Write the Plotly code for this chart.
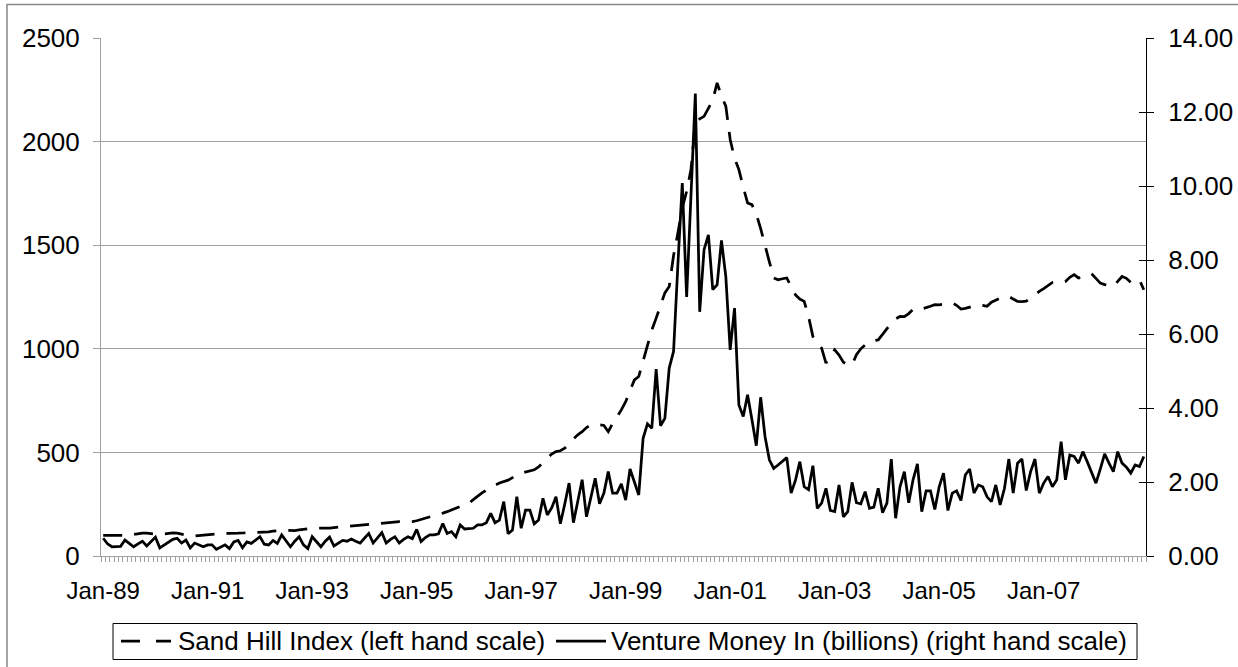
import pandas as pd
import plotly.graph_objects as go

# ---- data -------------------------------------------------------------
month_labels = list(pd.date_range("1989-01-01", periods=240, freq="MS").strftime("%b-%y"))
month_index = list(range(len(month_labels)))
tick_positions = list(range(0, 240, 24))
tick_labels = [month_labels[i] for i in tick_positions]

sand_hill = [
    100, 100, 101, 101, 102, 101, 100, 104, 108, 110, 110, 108,   # 1989
    104, 103, 106, 109, 111, 110, 106, 101, 97, 97, 99, 103,      # 1990
    104, 106, 108, 110, 110, 109, 108, 110, 111, 112, 113, 115,   # 1991
    115, 114, 117, 120, 123, 124, 124, 122, 123, 126, 129, 131,   # 1992
    133, 134, 133, 134, 135, 137, 139, 140, 142, 145, 148, 150,   # 1993
    150, 152, 154, 155, 157, 160, 163, 166, 166, 165, 164, 166,   # 1994
    170, 176, 182, 187, 192, 199, 207, 214, 222, 230, 238, 246,   # 1995
    255, 272, 290, 305, 318, 332, 342, 352, 358, 366, 378, 392,   # 1996
    400, 405, 410, 416, 430, 452, 475, 492, 504, 508, 520, 545,   # 1997
    565, 585, 600, 620, 632, 636, 634, 630, 600, 640, 672, 705,   # 1998
    745, 800, 850, 866, 940, 1019, 1090, 1148, 1210, 1270, 1301, 1450,  # 1999
    1560, 1680, 1760, 1865, 2090, 2110, 2122, 2160, 2200, 2283, 2220, 2171,  # 2000
    2010, 1920, 1865, 1780, 1704, 1696, 1650, 1580, 1494, 1420, 1342, 1333,  # 2001
    1338, 1342, 1300, 1260, 1240, 1229, 1156, 1059, 1030, 1003, 931, 960,    # 2002
    995, 970, 935, 923, 923, 971, 1000, 1019, 1035, 1040, 1043, 1070,        # 2003
    1100, 1124, 1145, 1156, 1155, 1170, 1190, 1197, 1192, 1197, 1205, 1213,  # 2004
    1212, 1215, 1218, 1221, 1210, 1192, 1195, 1200, 1208, 1213, 1210, 1205,  # 2005
    1225, 1237, 1245, 1250, 1253, 1240, 1229, 1228, 1230, 1245, 1262, 1277,  # 2006
    1290, 1305, 1320, 1322, 1318, 1325, 1345, 1358, 1342, 1345, 1355, 1362,  # 2007
    1340, 1317, 1310, 1305, 1301, 1325, 1349, 1340, 1320, 1325, 1333, 1285,  # 2008
]

venture_money = [
    0.48, 0.33, 0.25, 0.26, 0.26, 0.43, 0.33, 0.25, 0.33, 0.40, 0.27, 0.38,  # 1989
    0.51, 0.22, 0.30, 0.38, 0.45, 0.48, 0.35, 0.43, 0.22, 0.35, 0.30, 0.25,  # 1990
    0.30, 0.30, 0.18, 0.25, 0.30, 0.20, 0.38, 0.42, 0.22, 0.38, 0.34, 0.43,  # 1991
    0.52, 0.32, 0.30, 0.42, 0.34, 0.57, 0.40, 0.25, 0.40, 0.52, 0.30, 0.20,  # 1992
    0.52, 0.38, 0.25, 0.40, 0.51, 0.27, 0.35, 0.42, 0.40, 0.46, 0.40, 0.35,  # 1993
    0.48, 0.61, 0.35, 0.50, 0.63, 0.35, 0.45, 0.52, 0.35, 0.45, 0.52, 0.47,  # 1994
    0.72, 0.39, 0.50, 0.57, 0.57, 0.60, 0.88, 0.61, 0.66, 0.52, 0.84, 0.73,  # 1995
    0.73, 0.75, 0.84, 0.84, 0.90, 1.15, 0.90, 0.97, 1.47, 0.60, 0.70, 1.60,  # 1996
    0.75, 1.24, 1.24, 0.87, 0.97, 1.56, 1.11, 1.30, 1.60, 0.87, 1.40, 1.97,  # 1997
    0.90, 1.50, 2.06, 1.06, 1.60, 2.10, 1.41, 1.70, 2.28, 1.70, 1.70, 1.95,  # 1998
    1.51, 2.35, 2.00, 1.65, 3.18, 3.57, 3.45, 5.05, 3.52, 3.72, 5.08, 5.53,  # 1999
    7.90, 10.08, 7.00, 9.80, 12.50, 6.60, 8.28, 8.68, 7.20, 7.33, 8.53, 7.55,  # 2000
    5.57, 6.70, 4.08, 3.77, 4.36, 3.68, 2.98, 4.29, 3.23, 2.60, 2.37, 2.46,  # 2001
    2.55, 2.66, 1.70, 2.05, 2.55, 1.87, 1.79, 2.44, 1.29, 1.43, 1.83, 1.23,  # 2002
    1.20, 1.92, 1.06, 1.20, 1.99, 1.44, 1.41, 1.74, 1.29, 1.32, 1.83, 1.17,  # 2003
    1.43, 2.62, 1.02, 1.87, 2.28, 1.44, 2.06, 2.49, 1.20, 1.76, 1.76, 1.26,  # 2004
    1.87, 2.24, 1.23, 1.70, 1.76, 1.50, 2.19, 2.35, 1.70, 1.92, 1.87, 1.60,  # 2005
    1.47, 1.92, 1.38, 1.83, 2.62, 1.70, 2.51, 2.62, 1.77, 2.28, 2.62, 1.70,  # 2006
    1.97, 2.15, 1.87, 2.06, 3.09, 2.06, 2.73, 2.69, 2.51, 2.82, 2.55, 2.25,  # 2007
    1.97, 2.35, 2.76, 2.51, 2.28, 2.82, 2.51, 2.40, 2.24, 2.46, 2.42, 2.69,  # 2008
]

series_names = ["Sand Hill Index (left hand scale)",
                "Venture Money In (billions) (right hand scale)"]

# ---- figure -----------------------------------------------------------
W, H = 1238, 667
PL, PR, PT, PB = 101, 1146, 38, 556          # plot area in pixels
ML, MT, MR, MB = PL, PT, W - PR, H - PB

def px_x(x):
    return (x - PL) / (PR - PL)

def px_y(y):
    return (PB - y) / (PB - PT)

FONT = "Liberation Sans, Arial, Helvetica, sans-serif"
GRAY = "#a0a0a0"
LW = 2.75
DASH = "19px,12px"

fig = go.Figure()
fig.add_trace(go.Scatter(
    x=month_index, y=sand_hill, name=series_names[0], mode="lines",
    line=dict(color="black", width=LW, dash=DASH), yaxis="y"))
fig.add_trace(go.Scatter(
    x=month_index, y=venture_money, name=series_names[1], mode="lines",
    line=dict(color="black", width=LW), yaxis="y2"))
# carrier trace for the inner half of the right-axis cross ticks
fig.add_trace(go.Scatter(
    x=month_index, y=venture_money, mode="lines", opacity=0,
    showlegend=False, hoverinfo="skip", yaxis="y3"))

# ---- legend drawn as a boxed key (Excel style, compact) ---------------
LEG_Y = 641
legend_shapes = [
    dict(type="rect", xref="paper", yref="paper",
         x0=px_x(113), x1=px_x(1137), y0=px_y(659.5), y1=px_y(623.5),
         line=dict(color="black", width=1), fillcolor="white"),
    dict(type="line", xref="paper", yref="paper",
         x0=px_x(121), x1=px_x(171), y0=px_y(LEG_Y), y1=px_y(LEG_Y),
         line=dict(color="black", width=LW, dash="19px,16px")),
    dict(type="line", xref="paper", yref="paper",
         x0=px_x(556), x1=px_x(606), y0=px_y(LEG_Y), y1=px_y(LEG_Y),
         line=dict(color="black", width=LW)),
]
legend_texts = [
    dict(text=series_names[0], xref="paper", yref="paper",
         x=px_x(176), y=px_y(LEG_Y), xanchor="left", yanchor="middle",
         showarrow=False, font=dict(size=26, family=FONT, color="black")),
    dict(text=series_names[1], xref="paper", yref="paper",
         x=px_x(609), y=px_y(LEG_Y), xanchor="left", yanchor="middle",
         showarrow=False, font=dict(size=26, family=FONT, color="black")),
]

fig.update_layout(
    width=W, height=H,
    margin=dict(l=ML, r=MR, t=MT, b=MB, pad=0, autoexpand=False),
    paper_bgcolor="white", plot_bgcolor="white",
    font=dict(family=FONT, color="black"),
    showlegend=False,
    xaxis=dict(
        range=[-0.5, 239.5], showgrid=False, zeroline=False,
        showline=True, linecolor=GRAY, linewidth=1,
        tickmode="array", tickvals=tick_positions, ticktext=tick_labels,
        ticks="", tickfont=dict(size=24), ticklabelstandoff=13,
        minor=dict(tickmode="linear", tick0=-0.5, dtick=1, ticks="outside",
                   ticklen=5, tickcolor=GRAY, tickwidth=1, showgrid=False),
    ),
    yaxis=dict(
        range=[0, 2500], tick0=0, dtick=500, showgrid=True, gridcolor=GRAY,
        gridwidth=1, zeroline=False, showline=True, linecolor=GRAY,
        ticks="outside", ticklen=7, tickcolor=GRAY, tickfont=dict(size=26),
        ticklabelstandoff=8),
    yaxis2=dict(
        range=[0, 14], tick0=0, dtick=2, tickformat=".2f", overlaying="y",
        side="right", anchor="x", showgrid=False, zeroline=False,
        showline=True, linecolor="black", linewidth=1,
        ticks="outside", ticklen=7, tickcolor="black",
        tickfont=dict(size=26), ticklabelstandoff=9),
    yaxis3=dict(
        range=[0, 14], tick0=0, dtick=2, overlaying="y", side="right",
        anchor="x", showgrid=False, zeroline=False, showline=False,
        ticks="inside", ticklen=7, tickcolor="black", showticklabels=False),
    shapes=[dict(type="rect", xref="paper", yref="paper",
                 x0=px_x(7), x1=px_x(1290), y0=px_y(720), y1=px_y(4.5),
                 line=dict(color="#888888", width=1.5), layer="below")]
           + legend_shapes,
    annotations=legend_texts,
)

# remove the browser's default body margin so the figure sits at (0, 0)
fig.write_html(
    "out.html",
    config={"displayModeBar": False},
    post_script="document.body.style.margin='0';document.body.style.overflow='hidden';",
)
